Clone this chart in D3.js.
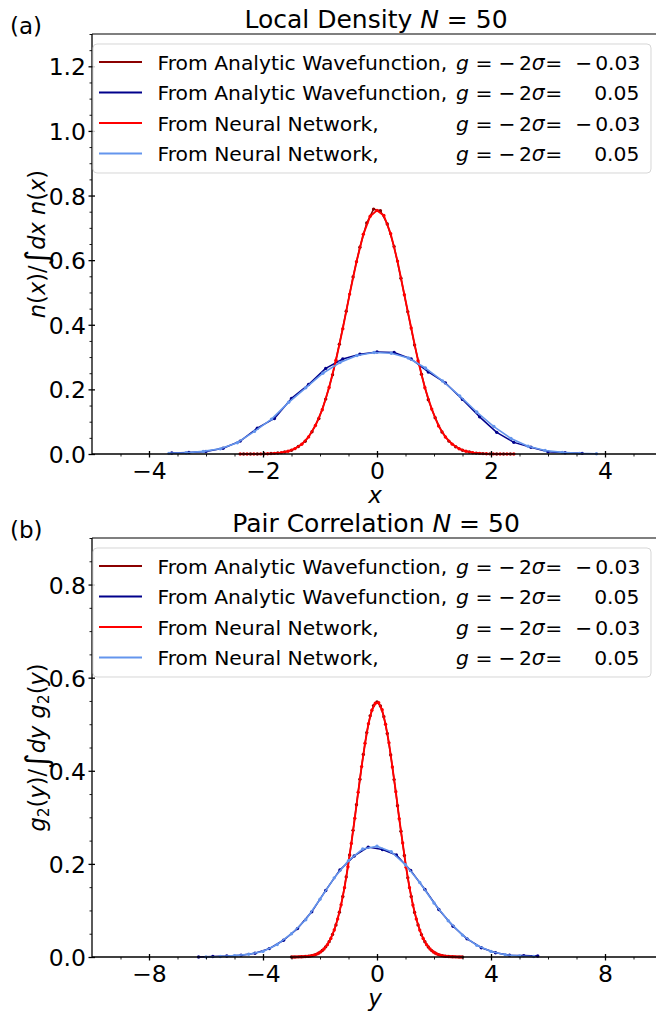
<!DOCTYPE html>
<html><head><meta charset="utf-8">
<script src="https://cdn.jsdelivr.net/npm/d3@7"></script>
<style>body{margin:0;background:#fff} text{font-family:"DejaVu Sans",sans-serif;fill:#000}</style>
</head><body><svg id="c" width="656" height="1013"></svg>
<script>
// ---------- DATA ----------
// Panel (a): local density
const densAnaNegX = [-2.34,-2.22,-2.10,-1.98,-1.86,-1.74,-1.62,-1.50,-1.38,-1.26,-1.14,-1.02,-0.90,-0.78,-0.66,-0.54,-0.42,-0.30,-0.18,-0.06,0.06,0.18,0.30,0.42,0.54,0.66,0.78,0.90,1.02,1.14,1.26,1.38,1.50,1.62,1.74,1.86,1.98,2.10,2.22,2.34];
const densAnaNegY = [0.0000,0.0001,0.0002,0.0006,0.0014,0.0030,0.0062,0.0115,0.0230,0.0395,0.0690,0.1100,0.1700,0.2450,0.3400,0.4420,0.5480,0.6400,0.7150,0.7580,0.7530,0.7120,0.6420,0.5440,0.4400,0.3370,0.2470,0.1680,0.1120,0.0680,0.0400,0.0225,0.0118,0.0060,0.0028,0.0013,0.0005,0.0002,0.0001,0.0000];
const densAnaPosX = [-3.6,-3.3,-3.0,-2.7,-2.4,-2.1,-1.8,-1.5,-1.2,-0.9,-0.6,-0.3,0.0,0.3,0.6,0.9,1.2,1.5,1.8,2.1,2.4,2.7,3.0,3.3,3.6];
const densAnaPosY = [0.003,0.005,0.008,0.018,0.040,0.080,0.110,0.172,0.215,0.265,0.294,0.309,0.316,0.314,0.294,0.254,0.220,0.169,0.115,0.067,0.036,0.021,0.007,0.004,0.002];
const densNNNegX = [-2.40,-2.28,-2.16,-2.04,-1.92,-1.80,-1.68,-1.56,-1.44,-1.32,-1.20,-1.08,-0.96,-0.84,-0.72,-0.60,-0.48,-0.36,-0.24,-0.12,0.00,0.12,0.24,0.36,0.48,0.60,0.72,0.84,0.96,1.08,1.20,1.32,1.44,1.56,1.68,1.80,1.92,2.04,2.16,2.28,2.40];
const densNNNegY = [0.0000,0.0000,0.0001,0.0003,0.0008,0.0020,0.0042,0.0085,0.0166,0.0300,0.0530,0.0880,0.1370,0.2060,0.2900,0.3880,0.4950,0.5950,0.6800,0.7360,0.7540,0.7380,0.6820,0.5970,0.4930,0.3900,0.2890,0.2050,0.1390,0.0870,0.0525,0.0305,0.0162,0.0084,0.0041,0.0019,0.0008,0.0003,0.0001,0.0000,0.0000];
const densNNPosX = [-3.65,-3.35,-3.05,-2.75,-2.45,-2.15,-1.85,-1.55,-1.25,-0.95,-0.65,-0.35,-0.05,0.25,0.55,0.85,1.15,1.45,1.75,2.05,2.35,2.65,2.95,3.25,3.55,3.85];
const densNNPosY = [0.002,0.004,0.008,0.016,0.035,0.070,0.108,0.160,0.205,0.250,0.283,0.305,0.314,0.312,0.297,0.266,0.226,0.180,0.130,0.085,0.048,0.024,0.011,0.005,0.002,0.001];

// Panel (b): pair correlation
const pairAnaNegX = [-3.00,-2.88,-2.76,-2.64,-2.52,-2.40,-2.28,-2.16,-2.04,-1.92,-1.80,-1.68,-1.56,-1.44,-1.32,-1.20,-1.08,-0.96,-0.84,-0.72,-0.60,-0.48,-0.36,-0.24,-0.12,0.00,0.12,0.24,0.36,0.48,0.60,0.72,0.84,0.96,1.08,1.20,1.32,1.44,1.56,1.68,1.80,1.92,2.04,2.16,2.28,2.40,2.52,2.64,2.76,2.88,3.00];
const pairAnaNegY = [0.0001,0.0001,0.0003,0.0005,0.0010,0.0017,0.0030,0.0052,0.0086,0.0140,0.0218,0.0330,0.0485,0.0690,0.0960,0.1300,0.1720,0.2190,0.2720,0.3270,0.3820,0.4350,0.4820,0.5180,0.5400,0.5480,0.5390,0.5160,0.4800,0.4340,0.3810,0.3250,0.2700,0.2180,0.1700,0.1300,0.0955,0.0690,0.0480,0.0328,0.0215,0.0138,0.0085,0.0052,0.0030,0.0017,0.0010,0.0005,0.0003,0.0001,0.0001];
const pairAnaPosX = [-6.26,-5.76,-5.27,-4.77,-4.28,-3.78,-3.28,-2.79,-2.29,-1.80,-1.30,-0.80,-0.31,0.19,0.68,1.18,1.68,2.17,2.67,3.16,3.66,4.16,4.65,5.15,5.64];
const pairAnaPosY = [0.000,0.001,0.002,0.004,0.008,0.018,0.036,0.061,0.097,0.143,0.187,0.217,0.236,0.231,0.219,0.186,0.145,0.102,0.066,0.039,0.020,0.009,0.004,0.003,0.002];
const pairNNNegX = [-2.94,-2.82,-2.70,-2.58,-2.46,-2.34,-2.22,-2.10,-1.98,-1.86,-1.74,-1.62,-1.50,-1.38,-1.26,-1.14,-1.02,-0.90,-0.78,-0.66,-0.54,-0.42,-0.30,-0.18,-0.06,0.06,0.18,0.30,0.42,0.54,0.66,0.78,0.90,1.02,1.14,1.26,1.38,1.50,1.62,1.74,1.86,1.98,2.10,2.22,2.34,2.46,2.58,2.70,2.82,2.94];
const pairNNNegY = [0.0001,0.0002,0.0004,0.0007,0.0013,0.0023,0.0040,0.0067,0.0110,0.0172,0.0265,0.0398,0.0580,0.0818,0.1120,0.1490,0.1940,0.2440,0.2980,0.3540,0.4090,0.4590,0.5010,0.5300,0.5450,0.5460,0.5310,0.5000,0.4600,0.4080,0.3550,0.2970,0.2450,0.1930,0.1490,0.1115,0.0815,0.0578,0.0397,0.0265,0.0172,0.0109,0.0067,0.0040,0.0023,0.0013,0.0007,0.0004,0.0002,0.0001];
const pairNNPosX = [-6.0,-5.5,-5.0,-4.5,-4.0,-3.5,-3.0,-2.5,-2.0,-1.5,-1.0,-0.5,0.0,0.5,1.0,1.5,2.0,2.5,3.0,3.5,4.0,4.5,5.0,5.5];
const pairNNPosY = [0.000,0.001,0.003,0.006,0.012,0.027,0.050,0.080,0.124,0.170,0.207,0.232,0.238,0.226,0.198,0.160,0.116,0.078,0.047,0.025,0.012,0.005,0.002,0.001];

// Ticks
const topXTicks = [-4,-2,0,2,4];
const topXTickLabels = ['\u22124','\u22122','0','2','4'];
const topYTicks = [0,0.2,0.4,0.6,0.8,1.0,1.2];
const topYTickLabels = ['0.0','0.2','0.4','0.6','0.8','1.0','1.2'];
const botXTicks = [-8,-4,0,4,8];
const botXTickLabels = ['\u22128','\u22124','0','4','8'];
const botYTicks = [0,0.2,0.4,0.6,0.8];
const botYTickLabels = ['0.0','0.2','0.4','0.6','0.8'];

// Legend
const legendPrefix = ['From Analytic Wavefunction,','From Analytic Wavefunction,','From Neural Network,','From Neural Network,'];
const legendValue = ['\u22120.03','0.05','\u22120.03','0.05'];
const seriesColors = ['#8b0000','#00008b','#ff0000','#6495ed'];

// ---------- DRAW ----------
const svg = d3.select('#c');
const L = 92, R = 662;
const TICKFS = '23.5px', LEGFS = '20.3px';

const panels = [
  {top:34, bottom:454, xdom:[-5,5], ydom:[0,1.3], xt:topXTicks, xtl:topXTickLabels, yt:topYTicks, ytl:topYTickLabels,
   series:[[densAnaNegX,densAnaNegY],[densAnaPosX,densAnaPosY],[densNNNegX,densNNNegY],[densNNPosX,densNNPosY]],
   minorX:20, minorY:26, letter:'(a)', title:'Local Density ', xlab:'x', ylab:'a', legTop:44},
  {top:538, bottom:957, xdom:[-10,10], ydom:[0,0.9], xt:botXTicks, xtl:botXTickLabels, yt:botYTicks, ytl:botYTickLabels,
   series:[[pairAnaNegX,pairAnaNegY],[pairAnaPosX,pairAnaPosY],[pairNNNegX,pairNNNegY],[pairNNPosX,pairNNPosY]],
   minorX:20, minorY:18, letter:'(b)', title:'Pair Correlation ', xlab:'y', ylab:'b', legTop:548}
];

panels.forEach(p => {
  const x = d3.scaleLinear().domain(p.xdom).range([L,R]);
  const y = d3.scaleLinear().domain(p.ydom).range([p.bottom,p.top]);
  const g = svg.append('g');

  // series
  const line = d3.line().x(d=>x(d[0])).y(d=>y(d[1]));
  const widths = [1.5,1.5,1.9,1.6];
  p.series.forEach((s,i) => {
    const pts = d3.zip(s[0], s[1]);
    g.append('path').datum(pts).attr('d',line).attr('fill','none')
      .attr('stroke',seriesColors[i]).attr('stroke-width',widths[i]).attr('stroke-linejoin','round');
    g.selectAll(null).data(pts).enter().append('circle')
      .attr('cx',d=>x(d[0])).attr('cy',d=>y(d[1])).attr('r',1.7).attr('fill',seriesColors[i]);
  });

  // spines
  g.append('line').attr('x1',L).attr('x2',R).attr('y1',p.top).attr('y2',p.top).attr('stroke','#000').attr('stroke-width',1.1);
  g.append('line').attr('x1',L).attr('x2',R).attr('y1',p.bottom).attr('y2',p.bottom).attr('stroke','#000').attr('stroke-width',1.3);
  g.append('line').attr('x1',L).attr('x2',L).attr('y1',p.top).attr('y2',p.bottom).attr('stroke','#000').attr('stroke-width',1.3);

  // minor x ticks
  const minX = x.ticks(p.minorX).filter(v => !p.xt.includes(v) && v > p.xdom[0] && v < p.xdom[1]);
  g.append('g').attr('transform',`translate(0,${p.bottom})`)
    .call(d3.axisBottom(x).tickValues(minX).tickSize(2.5).tickFormat(''))
    .call(s=>{s.select('.domain').remove(); s.selectAll('line').attr('stroke-width',0.9);});
  // major x ticks
  g.append('g').attr('transform',`translate(0,${p.bottom})`)
    .call(d3.axisBottom(x).tickValues(p.xt).tickFormat((d,i)=>p.xtl[i]))
    .call(s=>{
      s.select('.domain').remove();
      s.selectAll('.tick line').attr('y1',-3).attr('y2',3.5).attr('stroke-width',1.3);
      s.selectAll('.tick text').attr('y',24.5).attr('dy',null).style('font-size',TICKFS).style('font-family','DejaVu Sans');
    });
  // minor y ticks
  const minY = y.ticks(p.minorY).filter(v => !p.yt.some(t=>Math.abs(t-v)<1e-9) && v > p.ydom[0]);
  g.append('g').attr('transform',`translate(${L},0)`)
    .call(d3.axisLeft(y).tickValues(minY).tickSize(2.5).tickFormat(''))
    .call(s=>{s.select('.domain').remove(); s.selectAll('line').attr('stroke-width',0.9);});
  // major y ticks
  g.append('g').attr('transform',`translate(${L},0)`)
    .call(d3.axisLeft(y).tickValues(p.yt).tickFormat((d,i)=>p.ytl[i]))
    .call(s=>{
      s.select('.domain').remove();
      s.selectAll('.tick line').attr('x1',3).attr('x2',-3.5).attr('stroke-width',1.3);
      s.selectAll('.tick text').attr('x',-6).attr('dy','0.36em').style('font-size',TICKFS).style('font-family','DejaVu Sans');
    });

  // legend
  const lg = g.append('g');
  lg.append('rect').attr('x',93).attr('y',p.legTop).attr('width',558).attr('height',129).attr('rx',4)
    .attr('fill','#fff').attr('fill-opacity',0.8).attr('stroke','#cccccc').attr('stroke-opacity',0.8);
  legendPrefix.forEach((t,i) => {
    const cy = p.legTop + 18 + 30.5*i;
    lg.append('line').attr('x1',99).attr('x2',142).attr('y1',cy).attr('y2',cy)
      .attr('stroke',seriesColors[i]).attr('stroke-width',1.9);
    const by = cy + 7.5;
    lg.append('text').attr('x',157.5).attr('y',by).style('font-size',LEGFS).text(t);
    // math part flows as one text run with small gaps
    const m = lg.append('text').attr('x',456).attr('y',by).style('font-size',LEGFS);
    m.append('tspan').style('font-style','oblique').text('g');
    m.append('tspan').attr('dx',6.5).text('=');
    m.append('tspan').attr('dx',6).text('\u2212');
    m.append('tspan').attr('dx',3.5).text('2');
    m.append('tspan').style('font-style','oblique').text('\u03c3');
    m.append('tspan').attr('dx',0.5).text('=');
    const v = legendValue[i];
    if (v[0] === '\u2212') {
      m.append('tspan').attr('dx',13).text('\u2212');
      m.append('tspan').attr('dx',3).text(v.slice(1));
    } else {
      m.append('tspan').attr('dx',32).text(v);
    }
  });

  // title
  const tt = svg.append('text').attr('x',(L+R)/2 - 1).attr('y',p.top-6).attr('text-anchor','middle').style('font-size','25px');
  tt.append('tspan').text(p.title);
  tt.append('tspan').style('font-style','oblique').text('N');
  tt.append('tspan').text(' = 50');
  svg.append('text').attr('x',10).attr('y',p.top-0.5).style('font-size','23px').text(p.letter);

  // x label
  svg.append('text').attr('x',(L+R)/2 - 2).attr('y',p.bottom+49).attr('text-anchor','middle')
    .style('font-size','23px').style('font-style','oblique').text(p.xlab);

  // y label
  const yl = svg.append('text').attr('transform',`translate(45,${(p.top+p.bottom)/2}) rotate(-90)`)
    .attr('text-anchor','middle').style('font-size','22.5px');
  const it = (s)=>yl.append('tspan').style('font-style','oblique').text(s);
  const rm = (s)=>yl.append('tspan').style('font-style','normal').text(s);
  if (p.ylab === 'a') {
    it('n'); rm('('); it('x'); rm(')/');
    yl.append('tspan').style('font-size','30px').attr('dy',2).text('\u222b');
    yl.append('tspan').attr('dy',-2).style('font-style','oblique').text('dx n');
    rm('('); it('x'); rm(')');
  } else {
    it('g'); yl.append('tspan').style('font-size','15.5px').attr('dy',4).text('2');
    yl.append('tspan').attr('dy',-4).text('('); it('y'); rm(')/');
    yl.append('tspan').style('font-size','30px').attr('dy',2).text('\u222b');
    yl.append('tspan').attr('dy',-2).style('font-style','oblique').text('dy g');
    yl.append('tspan').style('font-size','15.5px').attr('dy',4).text('2');
    yl.append('tspan').attr('dy',-4).text('('); it('y'); rm(')');
  }
});
</script>
</body></html>
